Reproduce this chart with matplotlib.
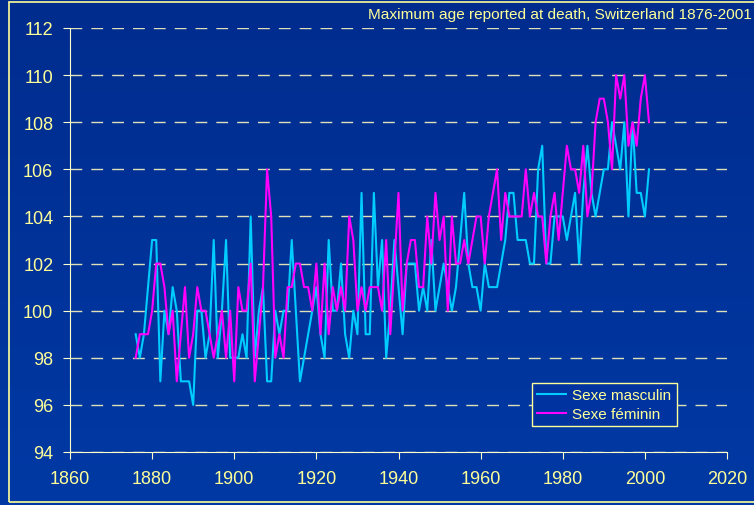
import matplotlib.pyplot as plt
import numpy as np
from matplotlib.colors import LinearSegmentedColormap
from matplotlib.patches import Rectangle

plt.rcParams['font.family'] = ['Liberation Sans', 'DejaVu Sans']

# Maximum age at death per year, 1876-2001
years = list(range(1876, 2002))
masculin = [
    99, 98, 99, 101, 103, 103, 97, 100, 99, 101,        # 1876-1885
    100, 97, 97, 97, 96, 100, 100, 98, 99, 103,         # 1886-1895
    98, 100, 103, 98, 98, 98, 99, 98, 104, 98,          # 1896-1905
    100, 101, 97, 97, 100, 99, 100, 100, 103, 100,      # 1906-1915
    97, 98, 99, 100, 101, 99, 98, 103, 100, 100,        # 1916-1925
    102, 99, 98, 100, 99, 105, 99, 99, 105, 101,        # 1926-1935
    103, 98, 100, 103, 101, 99, 102, 102, 102, 100,     # 1936-1945
    101, 100, 103, 100, 101, 102, 101, 100, 101, 103,   # 1946-1955
    105, 102, 101, 101, 100, 102, 101, 101, 101, 102,   # 1956-1965
    103, 105, 105, 103, 103, 103, 102, 102, 106, 107,   # 1966-1975
    102, 102, 104, 104, 104, 103, 104, 105, 102, 105,   # 1976-1985
    107, 105, 104, 105, 106, 106, 108, 107, 106, 108,   # 1986-1995
    104, 108, 105, 105, 104, 106,                       # 1996-2001
]
feminin = [
    98, 99, 99, 99, 100, 102, 102, 101, 99, 100,        # 1876-1885
    97, 99, 101, 98, 99, 101, 100, 100, 99, 98,         # 1886-1895
    99, 100, 98, 100, 97, 101, 100, 100, 102, 97,       # 1896-1905
    99, 101, 106, 104, 98, 99, 98, 101, 101, 102,       # 1906-1915
    102, 101, 101, 100, 102, 99, 102, 99, 101, 100,     # 1916-1925
    101, 100, 104, 103, 100, 101, 100, 101, 101, 101,   # 1926-1935
    100, 103, 99, 102, 105, 100, 102, 103, 103, 101,    # 1936-1945
    101, 104, 102, 105, 103, 104, 100, 104, 102, 102,   # 1946-1955
    103, 102, 103, 104, 104, 102, 104, 105, 106, 103,   # 1956-1965
    105, 104, 104, 104, 104, 106, 104, 105, 104, 104,   # 1966-1975
    102, 104, 105, 103, 105, 107, 106, 106, 105, 107,   # 1976-1985
    104, 105, 108, 109, 109, 108, 106, 110, 109, 110,   # 1986-1995
    107, 108, 107, 109, 110, 108,                       # 1996-2001
]

W, H = 754, 506
fig = plt.figure(figsize=(W / 100, H / 100), dpi=100)

# blue gradient background + pale yellow frame
bg = fig.add_axes([0, 0, 1, 1], zorder=0)
grad = np.linspace(0, 1, 256).reshape(-1, 1)
cmap = LinearSegmentedColormap.from_list('bg', ['#002C8E', '#0039A4'])
bg.imshow(grad, aspect='auto', cmap=cmap, extent=[0, 1, 0, 1])
bg.set_xlim(0, 1)
bg.set_ylim(0, 1)
bg.axis('off')
bg.add_patch(Rectangle((9 / W, 3 / H), 1.0, 500 / H, fill=False,
                       ec='#FFFF99', lw=1.2, clip_on=False))

ax = fig.add_axes([70 / W, 1 - 453 / H, 657 / W, 424 / H], zorder=1)
ax.set_facecolor('none')

ax.plot(years, masculin, color='#00CCFF', lw=1.5, label='Sexe masculin')
ax.plot(years, feminin, color='#FF00FF', lw=1.5, label='Sexe féminin')

ax.set_xlim(1860, 2020)
ax.set_ylim(94, 112)
ax.set_xticks(range(1860, 2021, 20))
ax.set_yticks(range(94, 113, 2))
ax.yaxis.grid(True, color='#E0E0B8', lw=1.0, dashes=(8.5, 6.5))
ax.set_axisbelow(True)

for side in ['top', 'right']:
    ax.spines[side].set_visible(False)
for side in ['left', 'bottom']:
    ax.spines[side].set_color('#FFFFCC')
ax.tick_params(direction='out', length=5, color='#FFFFCC',
               labelcolor='#FFFF99', labelsize=13)
ax.tick_params(axis='x', pad=8)
ax.tick_params(axis='y', pad=7)

leg = ax.legend(loc='upper left', bbox_to_anchor=(532 / W, 1 - 384 / H),
                bbox_transform=fig.transFigure, fontsize=11,
                fancybox=False, framealpha=1, facecolor='#0033A0',
                edgecolor='#FFFF99', handlelength=1.9, borderpad=0.35,
                labelspacing=0.3, handletextpad=0.4, borderaxespad=0)
for t in leg.get_texts():
    t.set_color('#FFFF99')

fig.text(368 / W, 1 - 15 / H, 'Maximum age reported at death, Switzerland 1876-2001',
         color='#FFFF99', fontsize=11.1, ha='left', va='center')

fig.savefig('out.png', dpi=100)
